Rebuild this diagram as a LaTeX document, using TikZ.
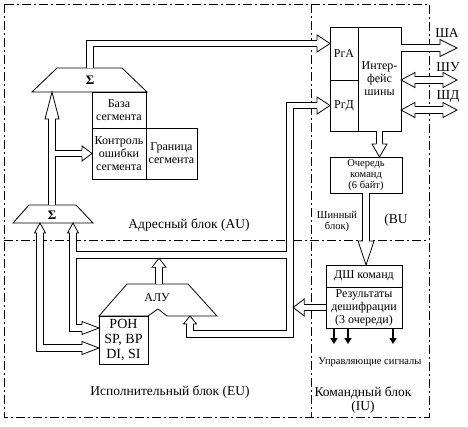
\documentclass[tikz,border=0pt]{standalone}
\usepackage{fontspec}
\setmainfont{Liberation Serif}
\usetikzlibrary{calc,positioning,arrows.meta}
\tikzset{
    thinline/.style={line width=.8pt},
    blok/.style={
      rectangle,
      draw=black, thinline,
      minimum width=54pt,
      minimum height=36pt,
      inner sep=1pt, outer sep=0pt,
      align=center,
      font=\fontsize{12}{13}\selectfont},
    trap/.style={draw=black, thinline},
    shaft/.style={draw=black, thinline, double=white, double distance=5.6pt},
    zone/.style={draw=black, thinline, dash pattern=on 9pt off 3pt on 2pt off 3pt},
    zonetext/.style={font=\fontsize{13.5}{14}\selectfont, inner sep=0pt},
    smalltext/.style={font=\fontsize{10.5}{11}\selectfont, align=center, inner sep=0pt},
    sigma/.style={font=\fontsize{13}{13}\selectfont\bfseries},
    signal/.style={draw=black, line width=1.6pt, -{Triangle[length=6pt,width=7pt]}},
    pics/head/.style args={#1/#2}{code={
      \draw[thinline, fill=white] (-#1,3.2pt) -- (-#1,#2) -- (0,0) -- (-#1,-#2) -- (-#1,-3.2pt);}},
}

\begin{document}
\begin{tikzpicture}[x=1pt, y=-1pt]
  \useasboundingbox (0,0) rectangle (468,427);
  % zones
  \draw[zone] (4,4) rectangle (429,417);
  \draw[zone] (311,4) -- (311,417);
  \draw[zone] (4,240) -- (429,240);

  % address unit
  \draw[trap] (57,68) -- (122,68) -- (147,92) -- (32,92) -- cycle;
  \node[sigma] (sumA) at (90,80) {Σ};
  \draw[trap] (29,205) -- (76,205) -- (93,223) -- (13,223) -- cycle;
  \node[sigma] (sumB) at (52,215) {Σ};
  \node[blok, anchor=north west] (base) at (92,92) {База\\сегмента};
  \node[blok, minimum height=51pt, below=0pt of base] (ctl) {Контроль\\ошибки\\сегмента};
  \node[blok, minimum width=51pt, minimum height=51pt, right=0pt of ctl] (lim) {Граница\\сегмента};

  % execution unit
  \draw[trap] (127,284) -- (188,284) -- (217,316) -- (167,316) -- (158,309) -- (148,316) -- (99,316) -- cycle;
  \node[font=\fontsize{12}{12}\selectfont] (alu) at (157,298) {АЛУ};
  \node[blok, minimum width=49pt, minimum height=48pt, anchor=north west,
        font=\fontsize{14}{15}\selectfont] (ron) at (99,316) {РОН\\SP, BP\\DI, SI};

  % bus unit
  \node[blok, minimum width=28pt, minimum height=53pt, anchor=north west] (rga) at (330,27) {РгА};
  \node[blok, minimum width=28pt, minimum height=51pt, below=0pt of rga] (rgd) {РгД};
  \node[blok, minimum width=43pt, minimum height=104pt, anchor=north west] (intf) at (rga.north east) {Интер-\\фейс\\шины};
  \node[blok, smalltext, minimum width=72pt, anchor=north west] (queue) at (330,157) {Очередь\\команд\\(6 байт)};

  % instruction unit
  \node[blok, minimum width=76pt, minimum height=22pt, anchor=north west] (dsh) at (326,265) {ДШ команд};
  \node[blok, minimum width=76pt, minimum height=41pt, below=0pt of dsh] (res) {Результаты\\дешифрации\\(3 очереди)};

  % end points
  \coordinate (aTop) at (90,68);
  \coordinate (aBot) at (52,92);
  \coordinate (bTop) at (52,205);
  \coordinate (bL) at (40,223);
  \coordinate (bR) at (73,223);
  \coordinate (aluIn) at (190,316);
  \coordinate (aluOut) at (159,284);
  \coordinate (aluTip) at (159,258.2);
  \coordinate (busC) at (290,334);
  \coordinate (busJ) at (290,255);
  \coordinate (sumJ) at (73,255);
  \coordinate (resTip) at ($(res.west -| busC)+(3.2pt,0pt)$);
  \coordinate (sha) at (457,48);
  \coordinate (shu) at (457,80);
  \coordinate (shd) at (457,110);

  % buses
  \draw[shaft, shorten >=13pt] (aTop) |- ([yshift=10pt]rga.west);
  \draw[shaft, shorten >=27pt] (bTop) -- (aBot);
  \draw[shaft, shorten >=10pt] ($(bTop |- ctl.west)+(2.8pt,0pt)$) -- (ctl.west);
  \draw[shaft, shorten <=10pt, shorten >=17pt] (bL) |- ([yshift=-8pt]ron.west);
  \draw[shaft, shorten <=10pt, shorten >=17pt] (bR) |- ([yshift=12pt]ron.west);
  \draw[shaft, shorten <=8pt, shorten >=13pt] (aluIn) |- (busC) |- (rgd.west);
  \draw[shaft] ([xshift=-2.8pt]busJ) -- ([xshift=2.8pt]sumJ);
  \draw[shaft, shorten >=9pt] (aluOut) -- (aluTip);
  \draw[shaft, shorten >=11pt] (res.west) -- (resTip);
  \draw[shaft, shorten >=13pt] (intf.south) -- (intf.south |- queue.north);
  \draw[shaft, shorten >=24pt] (queue.south) -- (queue.south |- dsh.north);
  \draw[shaft, shorten >=17pt] (intf.east |- sha) -- (sha);
  \draw[shaft, shorten <=14pt, shorten >=14pt] (intf.east |- shu) -- (shu);
  \draw[shaft, shorten <=14pt, shorten >=14pt] (intf.east |- shd) -- (shd);

  % heads
  \pic at ([yshift=10pt]rga.west) {head=13pt/8.5pt};
  \pic[rotate=90] at (aBot) {head=27pt/7pt};
  \pic at (ctl.west) {head=10pt/7.5pt};
  \pic[rotate=90] at (bL) {head=10pt/5.5pt};
  \pic[rotate=90] at (bR) {head=10pt/5.5pt};
  \pic at ([yshift=-8pt]ron.west) {head=17pt/6.5pt};
  \pic at ([yshift=12pt]ron.west) {head=17pt/6.5pt};
  \pic[rotate=90] at (aluIn) {head=8pt/6.5pt};
  \pic at (rgd.west) {head=13pt/8.5pt};
  \pic[rotate=90] at (aluTip) {head=9pt/7pt};
  \pic[rotate=180] at (resTip) {head=11pt/8.5pt};
  \pic[rotate=-90] at (intf.south |- queue.north) {head=13pt/7.5pt};
  \pic[rotate=-90] at (queue.south |- dsh.north) {head=24pt/8pt};
  \pic at (sha) {head=17pt/8.5pt};
  \pic at (shu) {head=14pt/7.5pt};
  \pic[rotate=180] at (intf.east |- shu) {head=14pt/7.5pt};
  \pic at (shd) {head=14pt/7.5pt};
  \pic[rotate=180] at (intf.east |- shd) {head=14pt/7.5pt};

  % control signals
  \foreach \dx in {8,22,67}
    \draw[signal] ([xshift=\dx pt]res.south west) -- ++(0,16);

  % labels
  \node[zonetext] (lsha) at (447,33) {ША};
  \node[zonetext] (lshu) at (448,67) {ШУ};
  \node[zonetext] (lshd) at (448,97) {ШД};
  \node[zonetext] (au) at (189,225) {Адресный блок (AU)};
  \node[zonetext] (eu) at (170,392) {Исполнительный блок (EU)};
  \node[zonetext, align=center] (iu) at (363,400) {Командный блок\\(IU)};
  \node[smalltext] (busblk) at (337,222) {Шинный\\блок)};
  \node[zonetext] (bu) at (396,220) {(BU};
  \node[smalltext] (sig) at (370,362) {Управляющие сигналы};
\end{tikzpicture}
\end{document}
